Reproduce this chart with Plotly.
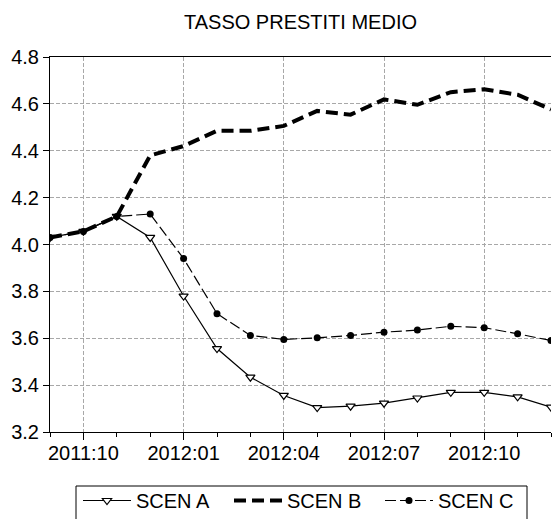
import plotly.graph_objects as go

months = ["2011:09", "2011:10", "2011:11", "2011:12",
          "2012:01", "2012:02", "2012:03", "2012:04", "2012:05", "2012:06",
          "2012:07", "2012:08", "2012:09", "2012:10", "2012:11", "2012:12"]
tick_labels = ["2011:10", "2012:01", "2012:04", "2012:07", "2012:10"]

scen_a = [4.03, 4.056, 4.12, 4.03, 3.78, 3.556, 3.434, 3.356, 3.304, 3.31,
          3.323, 3.345, 3.369, 3.369, 3.35, 3.306]
scen_b = [4.03, 4.056, 4.12, 4.38, 4.42, 4.485, 4.485, 4.506, 4.57, 4.554,
          4.619, 4.596, 4.65, 4.662, 4.639, 4.576]
scen_c = [4.03, 4.056, 4.12, 4.13, 3.94, 3.705, 3.612, 3.595, 3.602, 3.612,
          3.626, 3.635, 3.651, 3.645, 3.619, 3.59]

x = list(range(len(months)))
tickvals = [months.index(t) for t in tick_labels]

FONT = "Liberation Sans, Arial, sans-serif"
PLOT_L, PLOT_T, PLOT_W, PLOT_H = 50, 57, 501, 375

fig = go.Figure()
fig.add_trace(go.Scatter(
    x=x, y=scen_a, name="SCEN A", mode="lines+markers",
    line=dict(color="black", width=1.2),
    marker=dict(symbol="triangle-down", size=8, color="white",
                line=dict(color="black", width=1.2)),
))
fig.add_trace(go.Scatter(
    x=x, y=scen_b, name="SCEN B", mode="lines",
    line=dict(color="black", width=4, dash="12px,6px"),
))
fig.add_trace(go.Scatter(
    x=x, y=scen_c, name="SCEN C", mode="lines+markers",
    line=dict(color="black", width=1.2, dash="11px,4px"),
    marker=dict(symbol="circle", size=7, color="black"),
))

def px_x(p):
    return (p - PLOT_L) / PLOT_W

def px_y(p):
    return (PLOT_T + PLOT_H - p) / PLOT_H

# legend frame
fig.add_shape(type="rect", xref="paper", yref="paper",
              x0=px_x(76), x1=px_x(527), y0=px_y(520), y1=px_y(486),
              line=dict(color="black", width=1), fillcolor="rgba(0,0,0,0)",
              layer="above")

fig.update_layout(
    width=552, height=519,
    margin=dict(l=PLOT_L, r=552 - PLOT_L - PLOT_W, t=PLOT_T,
                b=519 - PLOT_T - PLOT_H, autoexpand=False),
    paper_bgcolor="white", plot_bgcolor="white",
    font=dict(family=FONT, size=20, color="black"),
    title=dict(text="TASSO PRESTITI MEDIO", x=0.5, xref="paper",
               xanchor="center", y=1 - 21.5 / 519, yanchor="middle",
               font=dict(family=FONT, size=20, color="black")),
    showlegend=True,
    legend=dict(orientation="h", x=px_x(78), xanchor="left",
                y=px_y(481), yanchor="top",
                borderwidth=0,
                font=dict(family=FONT, size=20, color="black"),
                itemwidth=48, entrywidth=88, entrywidthmode="pixels",
                bgcolor="rgba(0,0,0,0)"),
    xaxis=dict(
        range=[0, len(months) - 1],
        tickmode="array", tickvals=tickvals, ticktext=tick_labels,
        ticks="outside", ticklen=7, tickcolor="black", tickwidth=1,
        ticklabelstandoff=-4,
        showline=True, linecolor="black", linewidth=1, mirror=True,
        showgrid=True, gridcolor="#a8a8a8", griddash="4px,2px", gridwidth=1,
        zeroline=False,
        minor=dict(tickmode="array", tickvals=x, ticks="outside",
                   ticklen=4, tickcolor="black", showgrid=False),
        tickfont=dict(family=FONT, size=20),
    ),
    yaxis=dict(
        range=[3.2, 4.8], tickmode="linear", tick0=3.2, dtick=0.2,
        tickformat=".1f",
        ticks="outside", ticklen=6, tickcolor="black", tickwidth=1,
        showline=True, linecolor="black", linewidth=1, mirror=False,
        showgrid=True, gridcolor="#a8a8a8", griddash="4px,2px", gridwidth=1,
        zeroline=False,
        tickfont=dict(family=FONT, size=20),
    ),
)

fig.write_html("out.html", config={"displayModeBar": False})

# remove the default page margin so the figure starts at the window's corner
with open("out.html", encoding="utf-8") as f:
    html = f.read()
html = html.replace("<body>", '<body style="margin:0;overflow:hidden">', 1)
with open("out.html", "w", encoding="utf-8") as f:
    f.write(html)
